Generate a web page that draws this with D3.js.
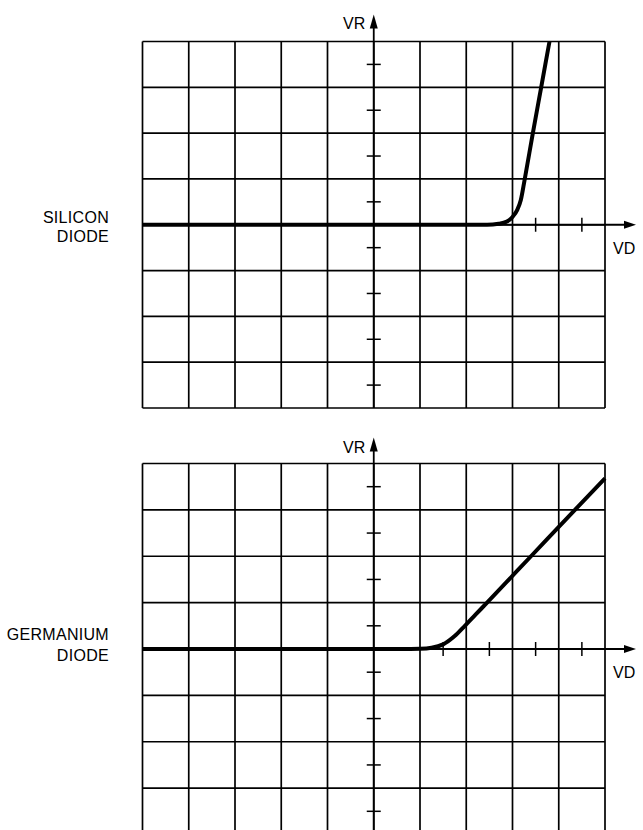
<!DOCTYPE html>
<html>
<head>
<meta charset="utf-8">
<script src="https://cdn.jsdelivr.net/npm/d3@7"></script>
<style>
  html, body { margin: 0; padding: 0; background: #fff; }
  svg { display: block; }
  text { font-family: "Liberation Sans", Arial, sans-serif; fill: #000; }
</style>
</head>
<body>
<svg id="chart" width="643" height="830"></svg>
<script>
// ---- data (screen divisions: x -5..5, y -4..4) ----
const gridX = [-5, -4, -3, -2, -1, 0, 1, 2, 3, 4, 5];
const gridY = [-4, -3, -2, -1, 0, 1, 2, 3, 4];
const yAxisTicks = [-3.5, -2.5, -1.5, -0.5, 0.5, 1.5, 2.5, 3.5];
const siliconXTicks = [3.5, 4.5];
const germaniumXTicks = [1.5, 2.5, 3.5, 4.5];

const siliconX = [-5, 2.45, 2.7, 2.88, 3.0, 3.1, 3.18, 3.26, 3.44, 3.62, 3.8];
const siliconY = [0, 0, 0.02, 0.07, 0.17, 0.32, 0.54, 0.97, 2.0, 3.0, 4.0];

const germaniumX = [-5, 0.8, 1.0, 1.25, 1.5, 1.75, 1.97, 2.2, 2.45, 3.4, 4.35, 5.0];
const germaniumY = [0, 0, 0.003, 0.025, 0.1, 0.28, 0.5, 0.74, 1.0, 2.0, 3.0, 3.68];

const panels = [
  { labels: ["SILICON", "DIODE"], xs: siliconX, ys: siliconY, xTicks: siliconXTicks,
    top: 41.5, bottom: 408, labelY: [222.5, 241.5], vrBase: 28.5, arrowTip: 14.5, vdBase: 253.5 },
  { labels: ["GERMANIUM", "DIODE"], xs: germaniumX, ys: germaniumY, xTicks: germaniumXTicks,
    top: 463.5, bottom: 834.5, labelY: [640, 660.5], vrBase: 452.5, arrowTip: 437.5, vdBase: 677.5 }
];

const svg = d3.select("#chart");
const left = 142.5, right = 605;

panels.forEach(p => {
  const x = d3.scaleLinear().domain([-5, 5]).range([left, right]);
  const y = d3.scaleLinear().domain([-4, 4]).range([p.bottom, p.top]);
  const g = svg.append("g");

  // grid
  g.selectAll("line.vx").data(gridX).join("line")
    .attr("x1", d => x(d)).attr("x2", d => x(d))
    .attr("y1", y(4)).attr("y2", Math.min(y(-4), 830))
    .attr("stroke", "#000").attr("stroke-width", 1.7);
  g.selectAll("line.hy").data(gridY).join("line")
    .attr("x1", x(-5)).attr("x2", x(5))
    .attr("y1", d => y(d)).attr("y2", d => y(d))
    .attr("stroke", "#000").attr("stroke-width", 1.7);

  // vertical axis with arrow
  g.append("line")
    .attr("x1", x(0)).attr("x2", x(0))
    .attr("y1", p.arrowTip + 8).attr("y2", Math.min(y(-4), 830))
    .attr("stroke", "#000").attr("stroke-width", 1.8);
  g.append("path")
    .attr("d", `M${x(0)},${p.arrowTip} L${x(0) - 4},${p.arrowTip + 14} L${x(0) + 4},${p.arrowTip + 14} Z`)
    .attr("fill", "#000");

  // horizontal axis with arrow
  const ax = x(0), ay = y(0);
  g.append("line")
    .attr("x1", x(-5)).attr("x2", 627)
    .attr("y1", ay).attr("y2", ay)
    .attr("stroke", "#000").attr("stroke-width", 2);
  g.append("path")
    .attr("d", `M636,${ay} L624,${ay - 4} L624,${ay + 4} Z`)
    .attr("fill", "#000");

  // ticks
  g.selectAll("line.ty").data(yAxisTicks).join("line")
    .attr("x1", ax - 7).attr("x2", ax + 7)
    .attr("y1", d => y(d)).attr("y2", d => y(d))
    .attr("stroke", "#000").attr("stroke-width", 1.5);
  g.selectAll("line.tx").data(p.xTicks).join("line")
    .attr("x1", d => x(d)).attr("x2", d => x(d))
    .attr("y1", ay - 7).attr("y2", ay + 7)
    .attr("stroke", "#000").attr("stroke-width", 1.5);

  // curve
  const pts = p.xs.map((v, i) => [v, p.ys[i]]);
  const line = d3.line().x(d => x(d[0])).y(d => y(d[1])).curve(d3.curveMonotoneX);
  g.append("path").datum(pts)
    .attr("d", line)
    .attr("fill", "none").attr("stroke", "#000")
    .attr("stroke-width", 4).attr("stroke-linejoin", "round").attr("stroke-linecap", "butt");

  // labels
  g.append("text").attr("x", 109).attr("y", p.labelY[0]).attr("text-anchor", "end")
    .attr("font-size", 16).attr("letter-spacing", 0.3).text(p.labels[0]);
  g.append("text").attr("x", 109).attr("y", p.labelY[1]).attr("text-anchor", "end")
    .attr("font-size", 16).attr("letter-spacing", 0.3).text(p.labels[1]);
  g.append("text").attr("x", 343).attr("y", p.vrBase)
    .attr("font-size", 16).text("VR");
  g.append("text").attr("x", 613).attr("y", p.vdBase)
    .attr("font-size", 16).text("VD");
});
</script>
</body>
</html>
